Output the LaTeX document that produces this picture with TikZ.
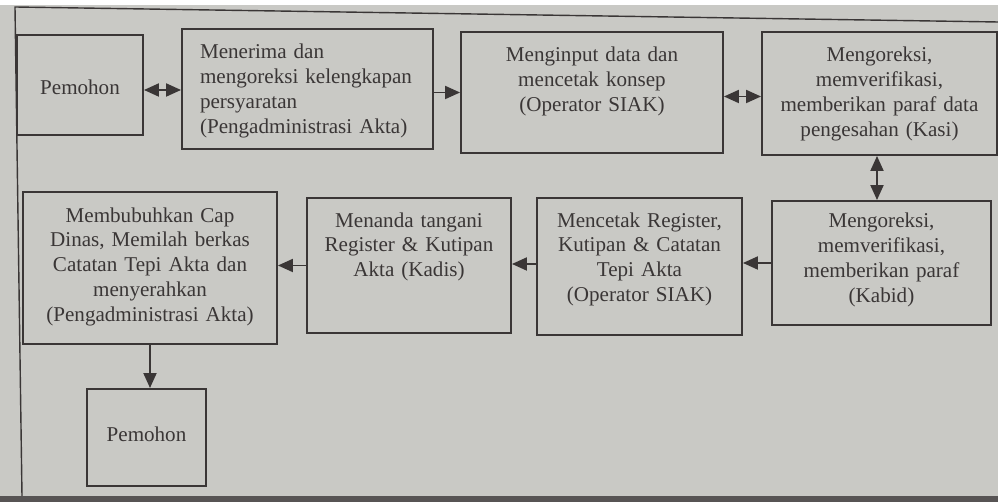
\documentclass[tikz,border=0pt]{standalone}
\usepackage{fontspec}
\setmainfont{Liberation Serif}
\usetikzlibrary{arrows.meta}
\definecolor{ink}{RGB}{58,54,54}
\definecolor{paper}{RGB}{201,201,197}
\newcommand{\boxfont}{\fontsize{12}{14.2}\selectfont}

\begin{document}
\begin{tikzpicture}[
            x=0.02cm, y=-0.02cm,
            proc/.style={draw=ink,line width=1.1pt,inner xsep=0pt,inner ysep=0pt,
                align=center,text=ink,font=\boxfont},
            flow/.style={draw=ink,line width=1.1pt},
            >={Triangle[length=3mm,width=2.6mm]}
        ]

        % Draw page %
        \useasboundingbox (0,0) rectangle (998,502);
        \fill[white] (0,0) rectangle (998,502);
        \fill[paper] (0,5) rectangle (998,496);
        \fill[ink!85] (0,496) rectangle (998,502);
        \draw[ink,line width=0.8pt] (22,496) -- (15,7) -- (998,22);

        % Draw top row %
        \node[proc,text width=2.52cm,text height=1.2cm,text depth=0.8cm] (pem1) at (80,85) {Pemohon};
        \node[proc,align=left,inner xsep=0.36cm,text width=4.3cm,text height=0.6cm,text depth=1.8cm] (menerima) at (307.5,89)
            {Menerima dan\\mengoreksi kelengkapan\\persyaratan\\(Pengadministrasi Akta)};
        \node[proc,text width=5.24cm,text height=0.6cm,text depth=1.82cm] (menginput) at (592,92.5)
            {Menginput data dan\\mencetak konsep\\(Operator SIAK)};
        \node[proc,text width=4.7cm,text height=0.6cm,text depth=1.86cm] (kasi) at (879.5,93.5)
            {Mengoreksi,\\memverifikasi,\\memberikan paraf data\\pengesahan (Kasi)};

        % Draw bottom row %
        \node[proc,text width=4.38cm,text height=0.54cm,text depth=1.94cm] (kabid) at (881.5,263)
            {Mengoreksi,\\memverifikasi,\\memberikan paraf\\(Kabid)};
        \node[proc,text width=4.1cm,text height=0.58cm,text depth=2.16cm] (mencetak) at (639.5,266.5)
            {Mencetak Register,\\Kutipan \& Catatan\\Tepi Akta\\(Operator SIAK)};
        \node[proc,text width=4.08cm,text height=0.58cm,text depth=2.12cm] (menanda) at (409,265.5)
            {Menanda tangani\\Register \& Kutipan\\Akta (Kadis)};
        \node[proc,text width=5.08cm,text height=0.6cm,text depth=2.44cm] (membubuhkan) at (150,268)
            {Membubuhkan Cap\\Dinas, Memilah berkas\\Catatan Tepi Akta dan\\menyerahkan\\(Pengadministrasi Akta)};
        \node[proc,text width=2.38cm,text height=1.06cm,text depth=0.88cm] (pem2) at (146.5,437.5) {Pemohon};

        % Draw arrows %
        \draw[flow,<->] ([yshift=-0.1cm]pem1.east) -- ([yshift=-0.1cm]pem1.east -| menerima.west);
        \draw[flow,->] (menerima.east |- menginput.west) -- (menginput.west);
        \draw[flow,<->] ([yshift=-0.08cm]menginput.east) -- ([yshift=-0.08cm]menginput.east -| kasi.west);
        \draw[flow,<->] ([xshift=-0.05cm]kasi.south) -- ([xshift=-0.05cm]kasi.south |- kabid.north);
        \draw[flow,->] (kabid.west) -- (kabid.west -| mencetak.east);
        \draw[flow,->] ([yshift=0.05cm]mencetak.west) -- ([yshift=0.05cm]mencetak.west -| menanda.east);
        \draw[flow,->] (menanda.west) -- (menanda.west -| membubuhkan.east);
        \draw[flow,->] (membubuhkan.south) -- (membubuhkan.south |- pem2.north);
        \end{tikzpicture}
\end{document}
